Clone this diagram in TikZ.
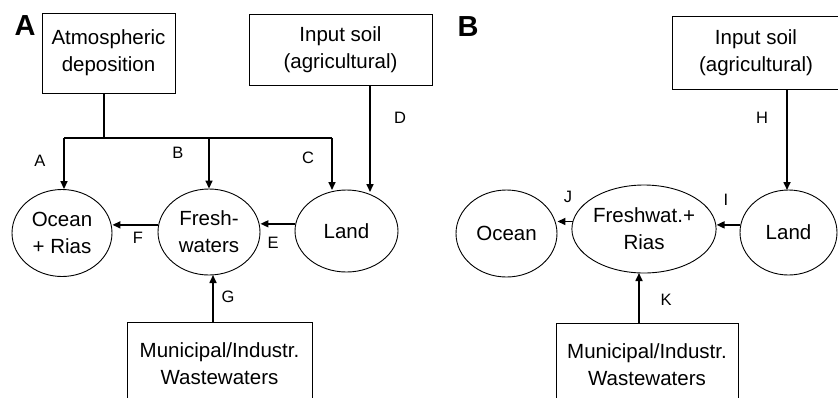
\documentclass[tikz,border=0pt]{standalone}
\usepackage{fontspec}
\setmainfont{Liberation Sans}
\usetikzlibrary{arrows.meta,shapes.geometric}
\begin{document}
\begin{tikzpicture}[x=1pt,y=-1pt,
  box/.style={draw,line width=1pt,rectangle,inner sep=0pt,align=center,font=\fontsize{20.5}{27}\selectfont},
  blob/.style={draw,line width=0.9pt,ellipse,inner sep=0pt,align=center,font=\fontsize{20.5}{27}\selectfont},
  lbl/.style={inner sep=0pt,font=\fontsize{16.5}{18}\selectfont},
  panel/.style={inner sep=0pt,font=\fontsize{29}{30}\selectfont\bfseries},
  arr/.style={line width=1.6pt,-{Triangle[length=8pt,width=7pt]}},
  ln/.style={line width=1.2pt}]
\clip (0,0) rectangle (838,397);
\fill[white] (0,0) rectangle (838,397);
% ---------- Panel A ----------
\node[panel] (pA) at (25,26) {A};
\node[box,minimum width=133pt,minimum height=80pt] (atm) at (108.5,53) {Atmospheric\\deposition};
\node[box,minimum width=183pt,minimum height=71pt] (soilA) at (340.5,49.5) {Input soil\\(agricultural)};
\node[blob,minimum width=100pt,minimum height=87pt] (ocean) at (62,233) {Ocean\\+ Rias};
\node[blob,minimum width=102pt,minimum height=86pt] (fresh) at (209,232) {Fresh-\\waters};
\node[blob,minimum width=103pt,minimum height=82pt] (land) at (346.5,231) {Land};
\node[box,minimum width=185pt,minimum height=84pt] (wasteA) at (219.5,364) {Municipal/Industr.\\Wastewaters};
\coordinate (j) at (104,138);
\coordinate (jA) at (64,138);
\coordinate (jB) at (209,138);
\coordinate (jC) at (332,138);
\coordinate (cEnd) at (332,190);
\coordinate (dEnd) at (370,192);
\draw[ln] (j |- atm.south) -- (j);
\draw[ln] (jA) -- (jC);
\draw[arr] (jA) -- (jA |- ocean.north);
\draw[arr] (jB) -- (fresh.north);
\draw[arr] (jC) -- (cEnd);
\draw[arr] (soilA.south -| dEnd) -- (dEnd);
\draw[arr] (fresh.172) -- (fresh.172 -| ocean.east);
\draw[arr] (land.172) -- (land.172 -| fresh.east);
\draw[arr] (wasteA.north -| 213,0) -- (213,275);
\node[lbl] (lA) at (40,161) {A};
\node[lbl] (lB) at (178,153) {B};
\node[lbl] (lC) at (308,158) {C};
\node[lbl] (lD) at (400,118) {D};
\node[lbl] (lE) at (273,243) {E};
\node[lbl] (lF) at (138,238) {F};
\node[lbl] (lG) at (228,297) {G};
% ---------- Panel B ----------
\node[panel] (pB) at (468,27) {B};
\node[box,minimum width=168pt,minimum height=73pt] (soilB) at (756,52.5) {Input soil\\(agricultural)};
\node[blob,minimum width=101pt,minimum height=87pt] (oceanB) at (506.5,233.5) {Ocean};
\node[blob,minimum width=122pt,minimum height=88pt] (freshB) at (644,229) {Freshwat.+\\Rias};
\node[blob,minimum width=97pt,minimum height=85pt] (landB) at (788.5,232.5) {Land};
\node[box,minimum width=182pt,minimum height=84pt] (wasteB) at (647,365) {Municipal/Industr.\\Wastewaters};
\coordinate (hEnd) at (787,190);
\draw[arr] (soilB.south -| hEnd) -- (hEnd);
\draw[arr] (freshB.174) -- (freshB.174 -| oceanB.east);
\draw[arr] (landB.171) -- (landB.171 -| freshB.east);
\draw[arr] (wasteB.north -| 639,0) -- (639,273);
\node[lbl] (lH) at (762,118) {H};
\node[lbl] (lI) at (726,200) {I};
\node[lbl] (lJ) at (568,197) {J};
\node[lbl] (lK) at (666,300) {K};
\end{tikzpicture}
\end{document}
